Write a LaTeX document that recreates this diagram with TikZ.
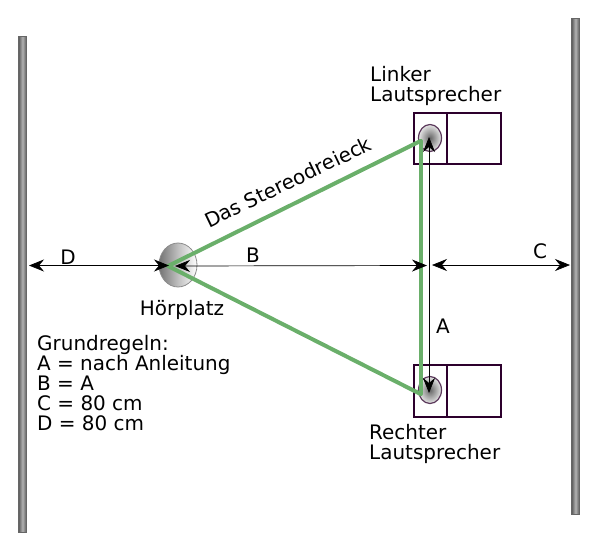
\documentclass[tikz,border=0pt]{standalone}
\usepackage{fontspec}
\setmainfont{DejaVu Sans}
\usetikzlibrary{arrows.meta,shapes.geometric}
\tikzset{
wand/.style={draw=black!60,line width=1pt,inner sep=0pt,minimum width=8pt,minimum height=496pt,left color=black!65,right color=black!65,middle color=black!30},
kasten/.style={draw=black!50!violet!70!black,line width=1.2pt,inner sep=0pt,fill=white},
kopf/.style={ellipse,draw=black!45,line width=0.8pt,inner sep=0pt,minimum width=38pt,minimum height=44pt,left color=black!55,right color=white,middle color=black!25},
chassis/.style={ellipse,draw=black!50!violet!55!gray,line width=1.2pt,inner sep=0pt,minimum width=23pt,minimum height=27pt,inner color=black!60,outer color=black!10},
mass/.style={{Stealth[length=15pt,width=12pt,inset=5pt]}-{Stealth[length=15pt,width=12pt,inset=5pt]},black,line width=0.7pt},
gruen/.style={line width=4pt,line cap=round,color={rgb,255:red,106;green,175;blue,106}},
txt/.style={inner sep=0pt,font=\fontsize{19.95}{20}\selectfont}
}
\begin{document}
\begin{tikzpicture}[x=1pt,y=-1pt]
\useasboundingbox (0,0) rectangle (599,552);

% Waende
\node[wand] (wandL) at (22.5,284) {};
\node[wand] (wandR) at (575.5,266.5) {};

% Hoerplatz
\node[kopf] (kopf) at (178,265) {};

% Linker Lautsprecher
\node[kasten,minimum width=54pt,minimum height=51pt] (kastenLb) at (474,138.5) {};
\node[kasten,minimum width=33pt,minimum height=51pt] (kastenLa) at (430.5,138.5) {};
\node[chassis] (chassisL) at (430,138) {};

% Rechter Lautsprecher
\node[kasten,minimum width=54pt,minimum height=52pt] (kastenRb) at (474,391) {};
\node[kasten,minimum width=33pt,minimum height=52pt] (kastenRa) at (430.5,391) {};
\node[chassis] (chassisR) at (430,390) {};

% Endpunkte
\coordinate (sitz) at (168,266);
\coordinate (gL) at (420.5,141);
\coordinate (gR) at (420.5,394);
\coordinate (d0) at (29,265.5);
\coordinate (d1) at (169,265.5);
\coordinate (b0) at (175,266);
\coordinate (b1) at (427,265.5);
\coordinate (c0) at (432,265);
\coordinate (c1) at (570,265);
\coordinate (a0) at (429,137);
\coordinate (a1) at (429,393);

% Stereodreieck
\draw[gruen] (sitz) -- (gL);
\draw[gruen] (sitz) -- (gR);
\draw[gruen] (gL) -- (gR);

% Pfeile
\draw[mass] (d0) -- (d1);
\draw[mass] (b0) -- (b1);
\draw[mass] (c0) -- (c1);
\draw[mass] (a0) -- (a1);

% Texte
\node[txt] (labelD) at (68,257) {D};
\node[txt] (labelB) at (253,255) {B};
\node[txt] (labelC) at (540,251) {C};
\node[txt] (labelA) at (443,326) {A};
\node[txt] (labelH) at (182,310) {Hörplatz};
\node[txt,rotate=25.7] (labelS) at (288,182) {Das Stereodreieck};
\node[txt,align=left,anchor=west] (labelLi) at (370,86) {Linker\\Lautsprecher};
\node[txt,align=left,anchor=west] (labelRe) at (369,444) {Rechter\\Lautsprecher};
\node[txt,align=left,anchor=west] (regeln) at (37,383) {Grundregeln:\\A = nach Anleitung\\B = A\\C = 80 cm\\D = 80 cm};

\end{tikzpicture}
\end{document}
